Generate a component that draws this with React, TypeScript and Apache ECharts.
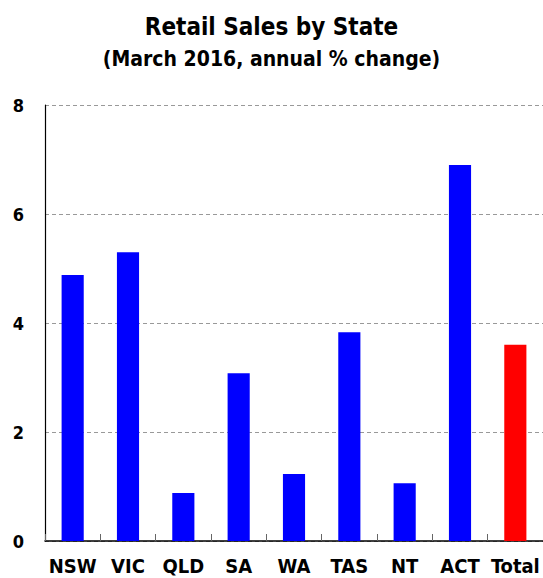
import React, { useEffect, useRef } from "react";
import * as echarts from "echarts";

const categories = ["NSW", "VIC", "QLD", "SA", "WA", "TAS", "NT", "ACT", "Total"];
const values = [4.88, 5.3, 0.88, 3.08, 1.23, 3.83, 1.06, 6.9, 3.6];
const barColors = ["#0000ff", "#0000ff", "#0000ff", "#0000ff", "#0000ff", "#0000ff", "#0000ff", "#0000ff", "#ff0000"];
const titleText = "Retail Sales by State";
const subtitleText = "(March 2016, annual % change)";

const FONT = "'DejaVu Sans Condensed', 'Liberation Sans Narrow', sans-serif";

export default function App() {
  const ref = useRef<HTMLDivElement>(null);
  useEffect(() => {
    if (!ref.current) return;
    const chart = echarts.init(ref.current, null, { renderer: "svg" });
    chart.setOption({
      animation: false,
      backgroundColor: "#ffffff",
      title: [
        {
          text: titleText,
          left: "center",
          top: 10,
          textStyle: { fontFamily: FONT, fontSize: 24, fontWeight: "bold", color: "#000" },
        },
        {
          text: subtitleText,
          left: "center",
          top: 43,
          textStyle: { fontFamily: FONT, fontSize: 21, fontWeight: "bold", color: "#000" },
        },
      ],
      grid: { left: 45, right: -2, top: 105, bottom: 37, containLabel: false },
      xAxis: {
        type: "category",
        data: categories,
        axisLine: { show: true, lineStyle: { color: "#000", width: 1.5 } },
        axisTick: { show: true, inside: true, length: 7, lineStyle: { color: "#666" } },
        axisLabel: {
          interval: 0,
          fontFamily: FONT,
          fontSize: 20,
          lineHeight: 20,
          fontWeight: "bold",
          color: "#000",
          margin: 15,
        },
        splitLine: { show: false },
      },
      yAxis: {
        type: "value",
        min: 0,
        max: 8,
        interval: 2,
        axisLine: { show: true, lineStyle: { color: "#000", width: 1.2 } },
        axisTick: { show: false },
        axisLabel: { fontFamily: FONT, fontSize: 18, fontWeight: "bold", color: "#000", margin: 21 },
        splitLine: { show: true, lineStyle: { color: "#999", type: [4, 3], width: 1 } },
      },
      series: [
        {
          type: "bar",
          data: values.map((v, i) => ({ value: v, itemStyle: { color: barColors[i] } })),
          barWidth: "40%",
        },
      ],
    });
    return () => chart.dispose();
  }, []);
  return <div ref={ref} style={{ width: 543, height: 578, position: "fixed", left: 0, top: 0 }} />;
}
